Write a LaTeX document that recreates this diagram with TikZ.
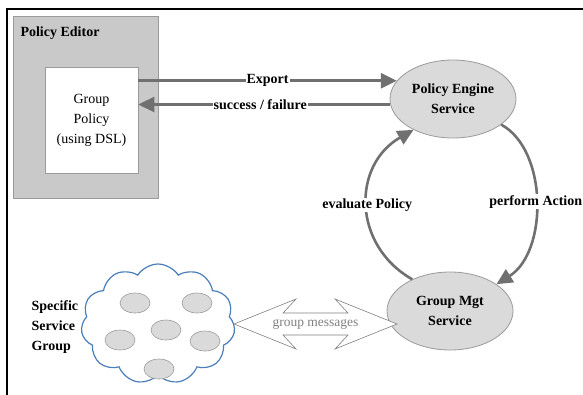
\documentclass[tikz,border=0pt]{standalone}
\usepackage{fontspec}
\setmainfont{Liberation Serif}
\usetikzlibrary{arrows.meta,shapes.geometric,shapes.symbols,calc}
\definecolor{flowgray}{HTML}{707070}
\definecolor{editorfill}{HTML}{C9C9C9}
\definecolor{edgegray}{HTML}{9A9A9A}
\definecolor{svcfill}{HTML}{DADADA}
\definecolor{cloudblue}{HTML}{4A7EBB}
\definecolor{msggray}{HTML}{808080}
\tikzset{
  txt/.style={font=\fontsize{14}{20}\selectfont},
  boldtxt/.style={font=\fontsize{14}{20}\selectfont\bfseries},
  editorbox/.style={draw=edgegray, fill=editorfill, line width=0.8pt, inner sep=0pt},
  policybox/.style={draw=edgegray, fill=white, line width=0.6pt, inner sep=0pt, align=center, txt},
  service/.style={ellipse, draw=edgegray, fill=svcfill, line width=0.8pt, inner sep=0pt,
    minimum width=126pt, minimum height=78pt, align=center, boldtxt},
  member/.style={ellipse, draw=edgegray, fill=svcfill, line width=0.6pt, inner sep=0pt,
    minimum width=30pt, minimum height=20pt},
  flow/.style={draw=flowgray, line width=2.6pt, -{Triangle[length=16pt,width=15pt]}},
  flowlabel/.style={fill=white, inner sep=1pt, boldtxt},
  msgarrow/.style={draw=msggray, fill=white, line width=0.6pt, line join=miter},
}
\begin{document}
\begin{tikzpicture}[x=1pt,y=-1pt]
\useasboundingbox (0,0) rectangle (583,394);

% outer frame (top and left edges)
\draw[line width=2.4pt, line cap=rect] (583,9) -- (7,9) -- (7,394);

% policy editor and the policy it holds
\node[editorbox, minimum width=145pt, minimum height=182pt] (ed) at (85.5,107) {};
\node[boldtxt, anchor=west] (edlabel) at (17,33) {Policy Editor};
\node[policybox, minimum width=93pt, minimum height=106pt] (gp) at (91.5,120) {Group\\Policy\\(using DSL)};

% services
\node[service] (pe) at (453,99) {Policy Engine\\Service};
\node[service] (gm) at (450,311) {Group Mgt\\Service};

% export / result exchange
\draw[flow] (gp.east |- pe.162) -- node[flowlabel] {Export} (pe.162);
\draw[flow] (pe.185) -- node[flowlabel, xshift=-4pt] {success / failure} (gp.east |- pe.185);

% control loop between the services
\draw[flow] (gm.140) .. controls (352,245) and (352,165) .. node[flowlabel, pos=0.5] {evaluate Policy} (pe.218);
\draw[flow] (pe.-28) .. controls (548,150) and (548,252) .. node[flowlabel, pos=0.5] {perform Action} (gm.30);

% service group cloud with its members
\node[cloud, cloud puffs=11, cloud puff arc=115, aspect=1.3, draw=cloudblue, line width=1.2pt,
      minimum width=154pt, minimum height=120pt] (cl) at (158,324) {};
\node[member] (m1) at (135,303) {};
\node[member] (m2) at (197,303) {};
\node[member] (m3) at (120,340) {};
\node[member] (m4) at (166,330) {};
\node[member] (m5) at (205,341) {};
\node[member] (m6) at (159,369) {};
\node[boldtxt, align=left, anchor=west] (sg) at (28,327) {Specific\\Service\\Group};

% two-way message arrow between the group and its manager
\coordinate (gl) at (234,324);
\coordinate (gr) at (397,324);
\draw[msgarrow] (gl) -- ($(gl)+(62,-25)$) -- ($(gl)+(49,-11)$) -- ($(gr)+(-49,-11)$)
  -- ($(gr)+(-62,-25)$) -- (gr) -- ($(gr)+(-62,25)$) -- ($(gr)+(-49,11)$)
  -- ($(gl)+(49,11)$) -- ($(gl)+(62,25)$) -- cycle;
\node[font=\fontsize{13.5}{16}\selectfont, text=msggray] (gmsg) at ($(gl)!0.5!(gr)$) {group messages};
\end{tikzpicture}
\end{document}
